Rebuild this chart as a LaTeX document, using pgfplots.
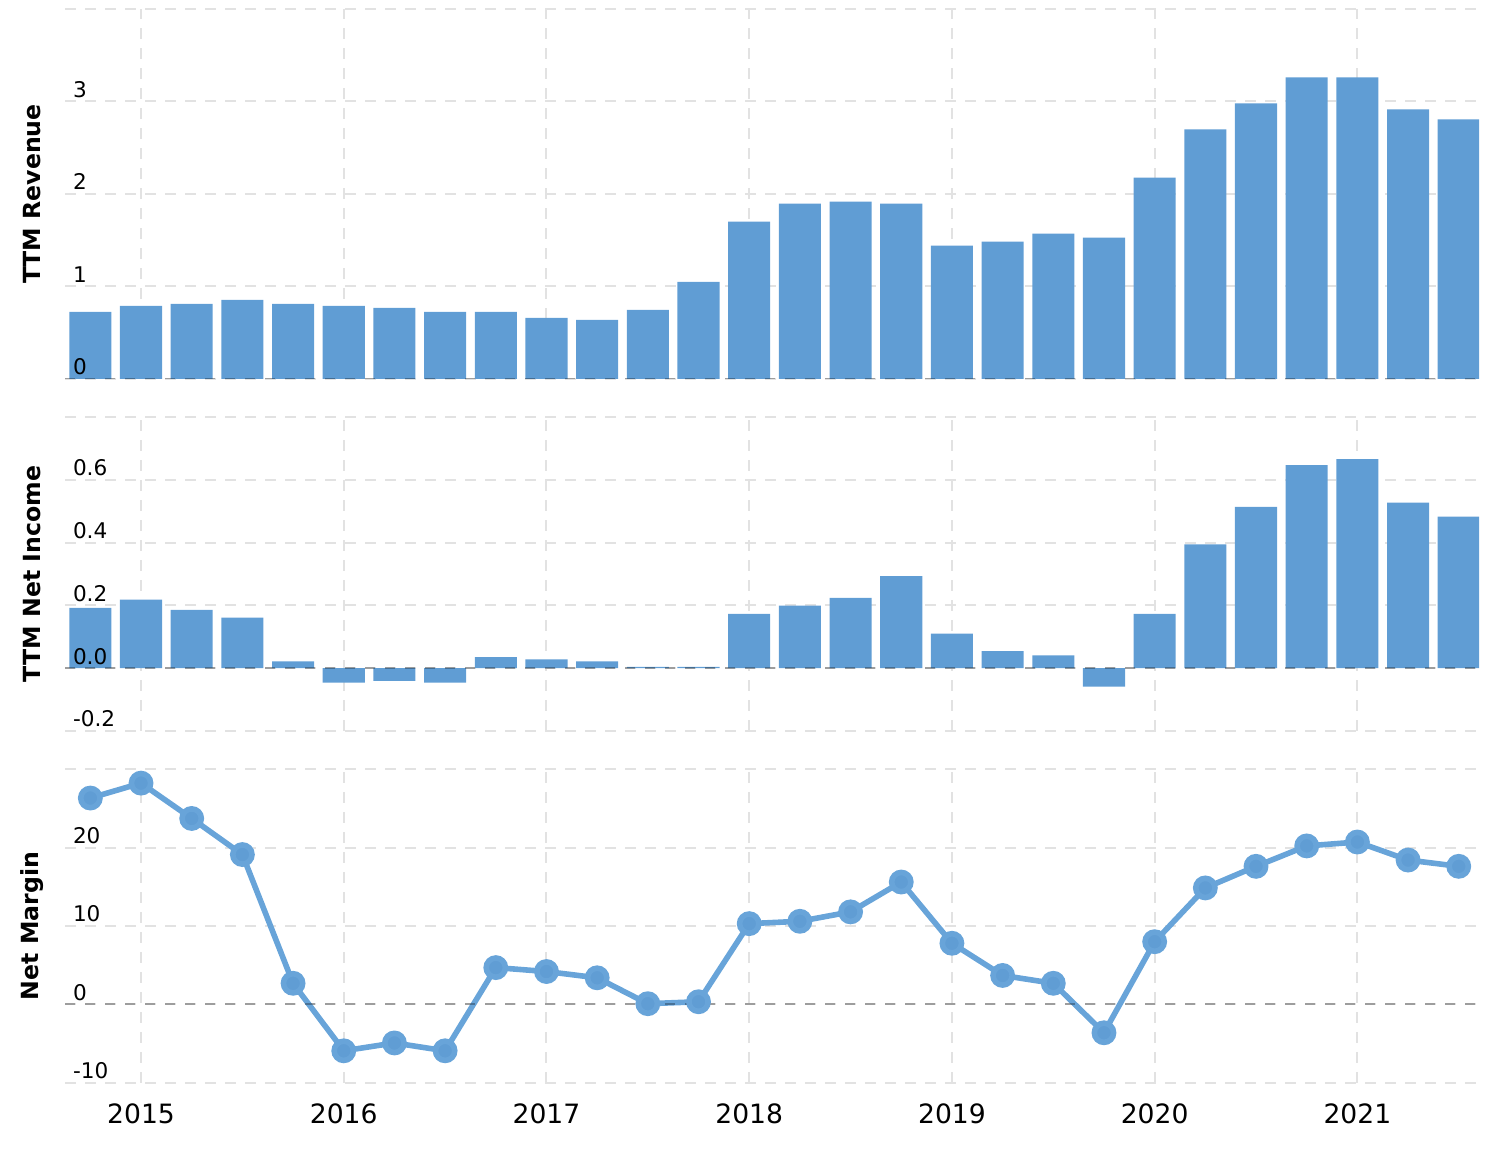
\documentclass[border=0pt]{standalone}
\usepackage{fontspec}
\setmainfont{DejaVu Sans}
\usepackage{pgfplots}
\pgfplotsset{compat=1.18}

\definecolor{barblue}{RGB}{96,157,212}
\definecolor{lineblue}{RGB}{104,164,217}
\definecolor{gridgray}{RGB}{226,226,226}

\pgfplotsset{
  panel/.style={
    scale only axis, width=707pt,
    xmin=2014.625, xmax=2021.6,
    axis line style={draw=none},
    major tick length=0pt,
    xtick={2015,2016,2017,2018,2019,2020,2021},
    xticklabels={},
    yticklabel style={anchor=base west, inner sep=0pt, xshift=3.8pt, yshift=2pt,
      font=\fontsize{10.8}{12}\selectfont},
    ylabel style={at={(axis description cs:-0.0233,0.5)}, anchor=center,
      font=\fontsize{11.8}{14}\selectfont\bfseries},
  },
  gridpanel/.style={panel, xmajorgrids, ymajorgrids, yticklabels={},
    major grid style={gridgray, line width=1pt, dash pattern=on 5.5pt off 4.5pt}},
  zeroline/.style={black, opacity=0.3, line width=1pt, dash pattern=on 5pt off 5pt, forget plot},
  bars/.style={ybar, bar width=0.2075, fill=barblue, draw=none},
  toppos/.style={at={(32.5pt,-4.5pt)}, anchor=north west, height=185pt,
    ymin=0, ymax=4, ytick={0,1,2,3,4}},
  midpos/.style={at={(32.5pt,-208.5pt)}, anchor=north west, height=157pt,
    ymin=-0.2, ymax=0.8, ytick={-0.2,0,0.2,0.4,0.6,0.8}},
  botpos/.style={at={(32.5pt,-384.5pt)}, anchor=north west, height=157pt,
    ymin=-10, ymax=30, ytick={-10,0,10,20,30}},
}

\begin{document}
\begin{tikzpicture}
\path[use as bounding box] (0,0) rectangle (752pt,-577pt);

% ---------- TTM Revenue ----------
\begin{axis}[gridpanel, toppos]
\addplot[bars] coordinates {
(2014.75,0.726) (2015.00,0.791) (2015.25,0.813) (2015.50,0.856)
(2015.75,0.813) (2016.00,0.791) (2016.25,0.769) (2016.50,0.726)
(2016.75,0.726) (2017.00,0.661) (2017.25,0.639) (2017.50,0.748)
(2017.75,1.051) (2018.00,1.700) (2018.25,1.896) (2018.50,1.918)
(2018.75,1.896) (2019.00,1.441) (2019.25,1.484) (2019.50,1.571)
(2019.75,1.528) (2020.00,2.178) (2020.25,2.698) (2020.50,2.980)
(2020.75,3.260) (2021.00,3.260) (2021.25,2.914) (2021.50,2.806)
};
\addplot[zeroline] coordinates {(2014.625,0) (2021.6,0)};
\end{axis}
\begin{axis}[panel, toppos, yticklabels={0,1,2,3,{}}, ylabel={TTM Revenue}]
\end{axis}

% ---------- TTM Net Income ----------
\begin{axis}[gridpanel, midpos]
\addplot[bars] coordinates {
(2014.75,0.192) (2015.00,0.218) (2015.25,0.186) (2015.50,0.161)
(2015.75,0.022) (2016.00,-0.046) (2016.25,-0.040) (2016.50,-0.046)
(2016.75,0.035) (2017.00,0.028) (2017.25,0.022) (2017.50,0.004)
(2017.75,0.004) (2018.00,0.173) (2018.25,0.199) (2018.50,0.224)
(2018.75,0.293) (2019.00,0.110) (2019.25,0.054) (2019.50,0.041)
(2019.75,-0.059) (2020.00,0.173) (2020.25,0.394) (2020.50,0.514)
(2020.75,0.647) (2021.00,0.666) (2021.25,0.527) (2021.50,0.483)
};
\addplot[zeroline] coordinates {(2014.625,0) (2021.6,0)};
\end{axis}
\begin{axis}[panel, midpos, yticklabels={-0.2,0.0,0.2,0.4,0.6,{}},
  ylabel={TTM Net Income}]
\end{axis}

% ---------- Net Margin ----------
\begin{axis}[gridpanel, botpos]
\addplot[lineblue, line width=2.8pt, mark=*, mark size=4.8pt,
  mark options={fill=barblue, draw=none}] coordinates {
(2014.75,26.3) (2015.00,28.2) (2015.25,23.7) (2015.50,19.1)
(2015.75,2.7) (2016.00,-5.9) (2016.25,-4.9) (2016.50,-5.9)
(2016.75,4.7) (2017.00,4.2) (2017.25,3.4) (2017.50,0.1)
(2017.75,0.35) (2018.00,10.3) (2018.25,10.6) (2018.50,11.8)
(2018.75,15.6) (2019.00,7.8) (2019.25,3.7) (2019.50,2.7)
(2019.75,-3.6) (2020.00,8.0) (2020.25,14.85) (2020.50,17.6)
(2020.75,20.2) (2021.00,20.7) (2021.25,18.4) (2021.50,17.6)
};
\addplot[zeroline] coordinates {(2014.625,0) (2021.6,0)};
\end{axis}
\begin{axis}[panel, botpos, yticklabels={-10,0,10,20,{}},
  xticklabels={2015,2016,2017,2018,2019,2020,2021},
  xticklabel style={anchor=north, inner sep=0pt, yshift=-10pt,
    font=\fontsize{13.3}{16}\selectfont},
  ylabel={Net Margin}]
\end{axis}
\end{tikzpicture}
\end{document}
